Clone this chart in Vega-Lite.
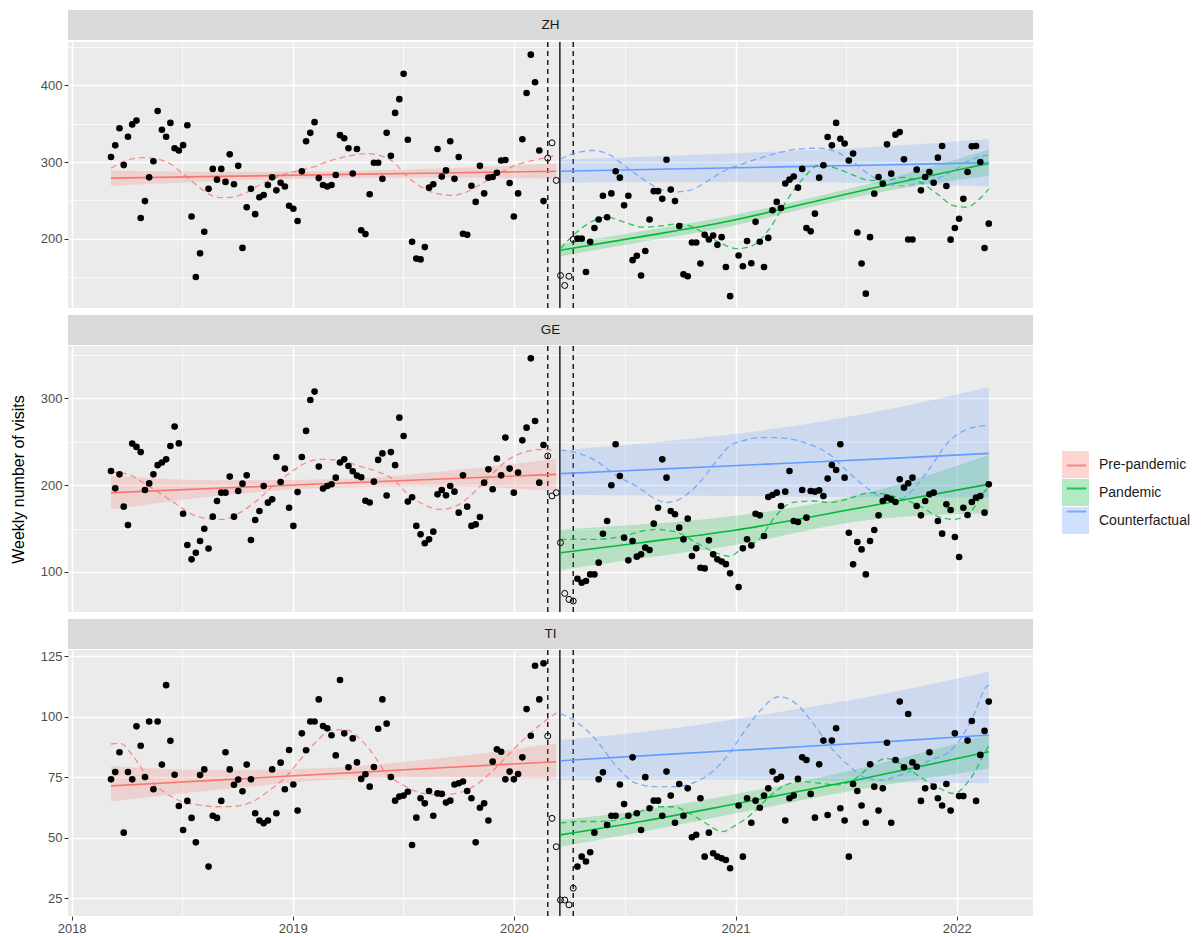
{
"$schema":"https://vega.github.io/schema/vega-lite/v6.json",
"background":"white",
"padding":{"left":10,"top":10,"right":0,"bottom":0},
"config":{"font":"Liberation Sans","view":{"stroke":null},
"axis":{"labelFont":"Liberation Sans","labelFontSize":13,"labelColor":"#4D4D4D","tickColor":"#333333","tickWidth":1,"domain":false,"gridColor":"#FFFFFF","gridOpacity":1,"titleFont":"Liberation Sans","titleFontWeight":"normal","titleFontSize":16,"titleColor":"#000000","labelFlush":false,"labelOverlap":false},
"legend":{"labelFont":"Liberation Sans"}},
"datasets":{
"events":[{"week":"2020-02-26","kind":"dashed"},{"week":"2020-03-17","kind":"solid"},{"week":"2020-04-08","kind":"dashed"}],
"zh_obs":[{"week":"2018-03-07","visits":306.5},{"week":"2018-03-14","visits":321.7},{"week":"2018-03-21","visits":344},{"week":"2018-03-28","visits":296},{"week":"2018-04-04","visits":333},{"week":"2018-04-11","visits":349},{"week":"2018-04-18","visits":354},{"week":"2018-04-25","visits":227},{"week":"2018-05-02","visits":249},{"week":"2018-05-09","visits":280},{"week":"2018-05-16","visits":301},{"week":"2018-05-23","visits":366.5},{"week":"2018-05-30","visits":342},{"week":"2018-06-06","visits":333},{"week":"2018-06-13","visits":351},{"week":"2018-06-20","visits":318},{"week":"2018-06-27","visits":315},{"week":"2018-07-04","visits":322},{"week":"2018-07-11","visits":348},{"week":"2018-07-18","visits":229},{"week":"2018-07-25","visits":150},{"week":"2018-08-01","visits":181},{"week":"2018-08-08","visits":209},{"week":"2018-08-15","visits":265},{"week":"2018-08-22","visits":291},{"week":"2018-08-29","visits":277},{"week":"2018-09-05","visits":291},{"week":"2018-09-12","visits":274},{"week":"2018-09-19","visits":310},{"week":"2018-09-26","visits":271},{"week":"2018-10-03","visits":295},{"week":"2018-10-10","visits":188},{"week":"2018-10-17","visits":241},{"week":"2018-10-24","visits":265},{"week":"2018-10-31","visits":232},{"week":"2018-11-07","visits":254},{"week":"2018-11-14","visits":257},{"week":"2018-11-21","visits":270},{"week":"2018-11-28","visits":280},{"week":"2018-12-05","visits":263},{"week":"2018-12-12","visits":273},{"week":"2018-12-19","visits":268},{"week":"2018-12-26","visits":243},{"week":"2019-01-02","visits":239},{"week":"2019-01-09","visits":223},{"week":"2019-01-16","visits":288},{"week":"2019-01-23","visits":327},{"week":"2019-01-30","visits":338},{"week":"2019-02-06","visits":352},{"week":"2019-02-13","visits":279},{"week":"2019-02-20","visits":270},{"week":"2019-02-27","visits":268},{"week":"2019-03-06","visits":270},{"week":"2019-03-13","visits":283},{"week":"2019-03-20","visits":335},{"week":"2019-03-27","visits":331},{"week":"2019-04-03","visits":318},{"week":"2019-04-10","visits":285},{"week":"2019-04-17","visits":317},{"week":"2019-04-24","visits":211},{"week":"2019-05-01","visits":206},{"week":"2019-05-08","visits":258},{"week":"2019-05-15","visits":299},{"week":"2019-05-22","visits":299},{"week":"2019-05-29","visits":278},{"week":"2019-06-05","visits":338},{"week":"2019-06-12","visits":308},{"week":"2019-06-19","visits":364},{"week":"2019-06-26","visits":382},{"week":"2019-07-03","visits":415},{"week":"2019-07-10","visits":329},{"week":"2019-07-17","visits":196},{"week":"2019-07-24","visits":174},{"week":"2019-07-31","visits":173},{"week":"2019-08-07","visits":189},{"week":"2019-08-14","visits":266.5},{"week":"2019-08-21","visits":271},{"week":"2019-08-28","visits":317},{"week":"2019-09-04","visits":281},{"week":"2019-09-11","visits":289},{"week":"2019-09-18","visits":327},{"week":"2019-09-25","visits":278},{"week":"2019-10-02","visits":306.5},{"week":"2019-10-09","visits":206.5},{"week":"2019-10-16","visits":205},{"week":"2019-10-23","visits":269},{"week":"2019-10-30","visits":248},{"week":"2019-11-06","visits":295},{"week":"2019-11-13","visits":259},{"week":"2019-11-20","visits":279.6},{"week":"2019-11-27","visits":280.4},{"week":"2019-12-04","visits":286},{"week":"2019-12-11","visits":302},{"week":"2019-12-18","visits":302.6},{"week":"2019-12-25","visits":272.6},{"week":"2020-01-01","visits":229},{"week":"2020-01-08","visits":259},{"week":"2020-01-15","visits":329.6},{"week":"2020-01-22","visits":390},{"week":"2020-01-29","visits":440},{"week":"2020-02-05","visits":404},{"week":"2020-02-12","visits":315},{"week":"2020-02-19","visits":249},{"week":"2020-02-26","visits":305,"excluded":true},{"week":"2020-03-04","visits":325,"excluded":true},{"week":"2020-03-11","visits":276,"excluded":true},{"week":"2020-03-18","visits":152,"excluded":true},{"week":"2020-03-25","visits":139,"excluded":true},{"week":"2020-04-01","visits":151,"excluded":true},{"week":"2020-04-08","visits":199,"excluded":true},{"week":"2020-04-15","visits":200},{"week":"2020-04-22","visits":200},{"week":"2020-04-29","visits":156.5},{"week":"2020-05-06","visits":196},{"week":"2020-05-13","visits":214},{"week":"2020-05-20","visits":225},{"week":"2020-05-27","visits":256},{"week":"2020-06-03","visits":228},{"week":"2020-06-10","visits":259},{"week":"2020-06-17","visits":288},{"week":"2020-06-24","visits":279.6},{"week":"2020-07-01","visits":243.5},{"week":"2020-07-08","visits":256},{"week":"2020-07-15","visits":172},{"week":"2020-07-22","visits":177.6},{"week":"2020-07-29","visits":152},{"week":"2020-08-05","visits":184},{"week":"2020-08-12","visits":225},{"week":"2020-08-19","visits":262},{"week":"2020-08-26","visits":262},{"week":"2020-09-02","visits":252},{"week":"2020-09-09","visits":303},{"week":"2020-09-16","visits":264},{"week":"2020-09-23","visits":249},{"week":"2020-09-30","visits":216.5},{"week":"2020-10-07","visits":153.5},{"week":"2020-10-14","visits":151},{"week":"2020-10-21","visits":195},{"week":"2020-10-28","visits":195},{"week":"2020-11-04","visits":167.6},{"week":"2020-11-11","visits":205},{"week":"2020-11-18","visits":199},{"week":"2020-11-25","visits":204},{"week":"2020-12-02","visits":192},{"week":"2020-12-09","visits":202},{"week":"2020-12-16","visits":163},{"week":"2020-12-23","visits":125},{"week":"2021-01-06","visits":178},{"week":"2021-01-13","visits":164},{"week":"2021-01-20","visits":197},{"week":"2021-01-27","visits":168},{"week":"2021-02-03","visits":222},{"week":"2021-02-10","visits":196},{"week":"2021-02-17","visits":163},{"week":"2021-02-24","visits":201},{"week":"2021-03-03","visits":237},{"week":"2021-03-10","visits":248},{"week":"2021-03-17","visits":240},{"week":"2021-03-24","visits":272},{"week":"2021-03-31","visits":277},{"week":"2021-04-07","visits":281},{"week":"2021-04-14","visits":266.5},{"week":"2021-04-21","visits":291},{"week":"2021-04-28","visits":214},{"week":"2021-05-05","visits":209.6},{"week":"2021-05-12","visits":232.6},{"week":"2021-05-19","visits":279.6},{"week":"2021-05-26","visits":295.7},{"week":"2021-06-02","visits":332.6},{"week":"2021-06-09","visits":321.7},{"week":"2021-06-16","visits":351},{"week":"2021-06-23","visits":330.4},{"week":"2021-06-30","visits":324},{"week":"2021-07-07","visits":302},{"week":"2021-07-14","visits":311},{"week":"2021-07-21","visits":208},{"week":"2021-07-28","visits":167.6},{"week":"2021-08-04","visits":128.3},{"week":"2021-08-11","visits":202},{"week":"2021-08-18","visits":258.7},{"week":"2021-08-25","visits":280.4},{"week":"2021-09-01","visits":271.7},{"week":"2021-09-08","visits":323},{"week":"2021-09-15","visits":284.8},{"week":"2021-09-22","visits":335.7},{"week":"2021-09-29","visits":339},{"week":"2021-10-06","visits":303.5},{"week":"2021-10-13","visits":199},{"week":"2021-10-20","visits":199},{"week":"2021-10-27","visits":290},{"week":"2021-11-03","visits":263},{"week":"2021-11-10","visits":280.4},{"week":"2021-11-17","visits":287},{"week":"2021-11-24","visits":273},{"week":"2021-12-01","visits":305.7},{"week":"2021-12-08","visits":320.9},{"week":"2021-12-15","visits":268.7},{"week":"2021-12-22","visits":198.7},{"week":"2021-12-29","visits":214},{"week":"2022-01-05","visits":226},{"week":"2022-01-12","visits":252},{"week":"2022-01-19","visits":287},{"week":"2022-01-26","visits":320.4},{"week":"2022-02-02","visits":320.9},{"week":"2022-02-09","visits":300},{"week":"2022-02-16","visits":187.8},{"week":"2022-02-23","visits":219.6}],
"ge_obs":[{"week":"2018-03-07","visits":216.3},{"week":"2018-03-14","visits":196.3},{"week":"2018-03-21","visits":212.4},{"week":"2018-03-28","visits":175.2},{"week":"2018-04-04","visits":154},{"week":"2018-04-11","visits":247.8},{"week":"2018-04-18","visits":244},{"week":"2018-04-25","visits":238},{"week":"2018-05-02","visits":194.4},{"week":"2018-05-09","visits":202},{"week":"2018-05-16","visits":212.4},{"week":"2018-05-23","visits":223},{"week":"2018-05-30","visits":226},{"week":"2018-06-06","visits":229.7},{"week":"2018-06-13","visits":245},{"week":"2018-06-20","visits":267.4},{"week":"2018-06-27","visits":248},{"week":"2018-07-04","visits":167},{"week":"2018-07-11","visits":131},{"week":"2018-07-18","visits":114.5},{"week":"2018-07-25","visits":122},{"week":"2018-08-01","visits":135.6},{"week":"2018-08-08","visits":149.8},{"week":"2018-08-15","visits":127},{"week":"2018-08-22","visits":163.7},{"week":"2018-08-29","visits":181.7},{"week":"2018-09-05","visits":191.3},{"week":"2018-09-12","visits":191.3},{"week":"2018-09-19","visits":209.8},{"week":"2018-09-26","visits":163.7},{"week":"2018-10-03","visits":193.2},{"week":"2018-10-10","visits":201.7},{"week":"2018-10-17","visits":211.3},{"week":"2018-10-24","visits":136.8},{"week":"2018-10-31","visits":159.8},{"week":"2018-11-07","visits":170.2},{"week":"2018-11-14","visits":199},{"week":"2018-11-21","visits":179.8},{"week":"2018-11-28","visits":183.6},{"week":"2018-12-05","visits":232.4},{"week":"2018-12-12","visits":203.6},{"week":"2018-12-19","visits":219},{"week":"2018-12-26","visits":174},{"week":"2019-01-02","visits":153},{"week":"2019-01-09","visits":192},{"week":"2019-01-16","visits":232.4},{"week":"2019-01-23","visits":262.4},{"week":"2019-01-30","visits":298},{"week":"2019-02-06","visits":307.7},{"week":"2019-02-13","visits":221.3},{"week":"2019-02-20","visits":196},{"week":"2019-02-27","visits":199},{"week":"2019-03-06","visits":201},{"week":"2019-03-13","visits":208.6},{"week":"2019-03-20","visits":226},{"week":"2019-03-27","visits":229.7},{"week":"2019-04-03","visits":222},{"week":"2019-04-10","visits":216},{"week":"2019-04-17","visits":211},{"week":"2019-04-24","visits":209},{"week":"2019-05-01","visits":182},{"week":"2019-05-08","visits":180},{"week":"2019-05-15","visits":204},{"week":"2019-05-22","visits":229},{"week":"2019-05-29","visits":236.5},{"week":"2019-06-05","visits":188},{"week":"2019-06-12","visits":238},{"week":"2019-06-19","visits":223},{"week":"2019-06-26","visits":277.7},{"week":"2019-07-03","visits":256.6},{"week":"2019-07-10","visits":181},{"week":"2019-07-17","visits":186},{"week":"2019-07-24","visits":153},{"week":"2019-07-31","visits":143.3},{"week":"2019-08-07","visits":133},{"week":"2019-08-14","visits":137.6},{"week":"2019-08-21","visits":146.4},{"week":"2019-08-28","visits":189.4},{"week":"2019-09-04","visits":194.4},{"week":"2019-09-11","visits":188.2},{"week":"2019-09-18","visits":199},{"week":"2019-09-25","visits":192.5},{"week":"2019-10-02","visits":168.3},{"week":"2019-10-09","visits":211.3},{"week":"2019-10-16","visits":175.2},{"week":"2019-10-23","visits":153},{"week":"2019-10-30","visits":154.8},{"week":"2019-11-06","visits":163.3},{"week":"2019-11-13","visits":202.8},{"week":"2019-11-20","visits":218.2},{"week":"2019-11-27","visits":195.2},{"week":"2019-12-04","visits":230.5},{"week":"2019-12-11","visits":211.3},{"week":"2019-12-18","visits":254.7},{"week":"2019-12-25","visits":219},{"week":"2020-01-01","visits":191.3},{"week":"2020-01-08","visits":214.4},{"week":"2020-01-15","visits":251.6},{"week":"2020-01-22","visits":266.2},{"week":"2020-01-29","visits":346},{"week":"2020-02-05","visits":273.9},{"week":"2020-02-12","visits":202.8},{"week":"2020-02-19","visits":246.2},{"week":"2020-02-26","visits":233.6,"excluded":true},{"week":"2020-03-04","visits":187.5,"excluded":true},{"week":"2020-03-11","visits":191.3,"excluded":true},{"week":"2020-03-18","visits":133.7,"excluded":true},{"week":"2020-03-25","visits":75.3,"excluded":true},{"week":"2020-04-01","visits":68.4,"excluded":true},{"week":"2020-04-08","visits":66.5,"excluded":true},{"week":"2020-04-15","visits":92.2},{"week":"2020-04-22","visits":87.6},{"week":"2020-04-29","visits":89.6},{"week":"2020-05-06","visits":97.2},{"week":"2020-05-13","visits":97.2},{"week":"2020-05-20","visits":110.7},{"week":"2020-05-27","visits":144},{"week":"2020-06-03","visits":158.7},{"week":"2020-06-10","visits":199.8},{"week":"2020-06-17","visits":247},{"week":"2020-06-24","visits":210.5},{"week":"2020-07-01","visits":139.5},{"week":"2020-07-08","visits":113.4},{"week":"2020-07-15","visits":135.6},{"week":"2020-07-22","visits":117.6},{"week":"2020-07-29","visits":120.3},{"week":"2020-08-05","visits":128},{"week":"2020-08-12","visits":125.3},{"week":"2020-08-19","visits":155.6},{"week":"2020-08-26","visits":174},{"week":"2020-09-02","visits":229.7},{"week":"2020-09-09","visits":208.6},{"week":"2020-09-16","visits":170.2},{"week":"2020-09-23","visits":166.4},{"week":"2020-09-30","visits":151},{"week":"2020-10-07","visits":137.6},{"week":"2020-10-14","visits":161.4},{"week":"2020-10-21","visits":118.4},{"week":"2020-10-28","visits":127.2},{"week":"2020-11-04","visits":104.9},{"week":"2020-11-11","visits":104.1},{"week":"2020-11-18","visits":136.4},{"week":"2020-11-25","visits":120.3},{"week":"2020-12-02","visits":114.5},{"week":"2020-12-09","visits":112},{"week":"2020-12-16","visits":109},{"week":"2020-12-23","visits":98.4},{"week":"2021-01-06","visits":82.6},{"week":"2021-01-13","visits":127.2},{"week":"2021-01-20","visits":137.6},{"week":"2021-01-27","visits":130.6},{"week":"2021-02-03","visits":167.1},{"week":"2021-02-10","visits":165.2},{"week":"2021-02-17","visits":141.4},{"week":"2021-02-24","visits":186.3},{"week":"2021-03-03","visits":188.6},{"week":"2021-03-10","visits":191.3},{"week":"2021-03-17","visits":176},{"week":"2021-03-24","visits":192.5},{"week":"2021-03-31","visits":216.3},{"week":"2021-04-07","visits":158.7},{"week":"2021-04-14","visits":157.5},{"week":"2021-04-21","visits":194.4},{"week":"2021-04-28","visits":162.5},{"week":"2021-05-05","visits":193.2},{"week":"2021-05-12","visits":192.5},{"week":"2021-05-19","visits":194},{"week":"2021-05-26","visits":187.5},{"week":"2021-06-02","visits":207.5},{"week":"2021-06-09","visits":223.2},{"week":"2021-06-16","visits":217.4},{"week":"2021-06-23","visits":247},{"week":"2021-06-30","visits":208.6},{"week":"2021-07-07","visits":145.2},{"week":"2021-07-14","visits":108.8},{"week":"2021-07-21","visits":134.5},{"week":"2021-07-28","visits":126},{"week":"2021-08-04","visits":97.2},{"week":"2021-08-11","visits":135.6},{"week":"2021-08-18","visits":148.3},{"week":"2021-08-25","visits":165.2},{"week":"2021-09-01","visits":181.7},{"week":"2021-09-08","visits":185.6},{"week":"2021-09-15","visits":183.6},{"week":"2021-09-22","visits":180.6},{"week":"2021-09-29","visits":206.7},{"week":"2021-10-06","visits":197.1},{"week":"2021-10-13","visits":202.1},{"week":"2021-10-20","visits":208.6},{"week":"2021-10-27","visits":176},{"week":"2021-11-03","visits":165.2},{"week":"2021-11-10","visits":181.7},{"week":"2021-11-17","visits":189.4},{"week":"2021-11-24","visits":191.3},{"week":"2021-12-01","visits":158.7},{"week":"2021-12-08","visits":144.1},{"week":"2021-12-15","visits":177.9},{"week":"2021-12-22","visits":171.4},{"week":"2021-12-29","visits":140.2},{"week":"2022-01-05","visits":117.2},{"week":"2022-01-12","visits":174},{"week":"2022-01-19","visits":165.6},{"week":"2022-01-26","visits":180.6},{"week":"2022-02-02","visits":185.6},{"week":"2022-02-09","visits":187.5},{"week":"2022-02-16","visits":168.3},{"week":"2022-02-23","visits":200.9}],
"ti_obs":[{"week":"2018-03-07","visits":74.1},{"week":"2018-03-14","visits":77.1},{"week":"2018-03-21","visits":85.3},{"week":"2018-03-28","visits":52.1},{"week":"2018-04-04","visits":77.1},{"week":"2018-04-11","visits":74.1},{"week":"2018-04-18","visits":96},{"week":"2018-04-25","visits":88},{"week":"2018-05-02","visits":75.1},{"week":"2018-05-09","visits":98},{"week":"2018-05-16","visits":70},{"week":"2018-05-23","visits":98},{"week":"2018-05-30","visits":80.2},{"week":"2018-06-06","visits":113},{"week":"2018-06-13","visits":90},{"week":"2018-06-20","visits":76},{"week":"2018-06-27","visits":63.1},{"week":"2018-07-04","visits":53.2},{"week":"2018-07-11","visits":65.2},{"week":"2018-07-18","visits":58.2},{"week":"2018-07-25","visits":48.1},{"week":"2018-08-01","visits":75.9},{"week":"2018-08-08","visits":78.2},{"week":"2018-08-15","visits":38.1},{"week":"2018-08-22","visits":59.1},{"week":"2018-08-29","visits":58.2},{"week":"2018-09-05","visits":65.2},{"week":"2018-09-12","visits":85.3},{"week":"2018-09-19","visits":78.2},{"week":"2018-09-26","visits":71.9},{"week":"2018-10-03","visits":74},{"week":"2018-10-10","visits":69.2},{"week":"2018-10-17","visits":80.2},{"week":"2018-10-24","visits":74.1},{"week":"2018-10-31","visits":60.1},{"week":"2018-11-07","visits":57.1},{"week":"2018-11-14","visits":56},{"week":"2018-11-21","visits":57.1},{"week":"2018-11-28","visits":78.2},{"week":"2018-12-05","visits":60.1},{"week":"2018-12-12","visits":81},{"week":"2018-12-19","visits":70},{"week":"2018-12-26","visits":86.2},{"week":"2019-01-02","visits":72},{"week":"2019-01-09","visits":61.2},{"week":"2019-01-16","visits":93.1},{"week":"2019-01-23","visits":86.1},{"week":"2019-01-30","visits":98},{"week":"2019-02-06","visits":98},{"week":"2019-02-13","visits":107.1},{"week":"2019-02-20","visits":96.1},{"week":"2019-02-27","visits":95.2},{"week":"2019-03-06","visits":92.3},{"week":"2019-03-13","visits":84},{"week":"2019-03-20","visits":115.1},{"week":"2019-03-27","visits":93.1},{"week":"2019-04-03","visits":79.1},{"week":"2019-04-10","visits":91},{"week":"2019-04-17","visits":81.1},{"week":"2019-04-24","visits":74.3},{"week":"2019-05-01","visits":76.2},{"week":"2019-05-08","visits":71.1},{"week":"2019-05-15","visits":79.2},{"week":"2019-05-22","visits":95},{"week":"2019-05-29","visits":107.1},{"week":"2019-06-05","visits":97.1},{"week":"2019-06-12","visits":75.1},{"week":"2019-06-19","visits":65.3},{"week":"2019-06-26","visits":67},{"week":"2019-07-03","visits":67.4},{"week":"2019-07-10","visits":69},{"week":"2019-07-17","visits":47},{"week":"2019-07-24","visits":58.3},{"week":"2019-07-31","visits":66.3},{"week":"2019-08-07","visits":64.2},{"week":"2019-08-14","visits":69.3},{"week":"2019-08-21","visits":59.1},{"week":"2019-08-28","visits":68.3},{"week":"2019-09-04","visits":68.1},{"week":"2019-09-11","visits":64.5},{"week":"2019-09-18","visits":65.3},{"week":"2019-09-25","visits":72},{"week":"2019-10-02","visits":72.5},{"week":"2019-10-09","visits":73.2},{"week":"2019-10-16","visits":69.3},{"week":"2019-10-23","visits":66.3},{"week":"2019-10-30","visits":48.1},{"week":"2019-11-06","visits":62.4},{"week":"2019-11-13","visits":64.2},{"week":"2019-11-20","visits":57.1},{"week":"2019-11-27","visits":81.4},{"week":"2019-12-04","visits":86.5},{"week":"2019-12-11","visits":85.5},{"week":"2019-12-18","visits":74.1},{"week":"2019-12-25","visits":77.3},{"week":"2020-01-01","visits":74.1},{"week":"2020-01-08","visits":76.3},{"week":"2020-01-15","visits":83.2},{"week":"2020-01-22","visits":103.1},{"week":"2020-01-29","visits":92.1},{"week":"2020-02-05","visits":121},{"week":"2020-02-12","visits":107.1},{"week":"2020-02-19","visits":122},{"week":"2020-02-26","visits":92,"excluded":true},{"week":"2020-03-04","visits":58,"excluded":true},{"week":"2020-03-11","visits":46.3,"excluded":true},{"week":"2020-03-18","visits":24.3,"excluded":true},{"week":"2020-03-25","visits":24.3,"excluded":true},{"week":"2020-04-01","visits":22.3,"excluded":true},{"week":"2020-04-08","visits":29.2,"excluded":true},{"week":"2020-04-15","visits":38.1},{"week":"2020-04-22","visits":42.2},{"week":"2020-04-29","visits":40.2},{"week":"2020-05-06","visits":44},{"week":"2020-05-13","visits":52.1},{"week":"2020-05-20","visits":74.1},{"week":"2020-05-27","visits":77},{"week":"2020-06-03","visits":55.3},{"week":"2020-06-10","visits":59.1},{"week":"2020-06-17","visits":59.1},{"week":"2020-06-24","visits":72},{"week":"2020-07-01","visits":63.9},{"week":"2020-07-08","visits":59.1},{"week":"2020-07-15","visits":83.2},{"week":"2020-07-22","visits":60.1},{"week":"2020-07-29","visits":53.2},{"week":"2020-08-05","visits":75},{"week":"2020-08-12","visits":62.2},{"week":"2020-08-19","visits":65.3},{"week":"2020-08-26","visits":65.3},{"week":"2020-09-02","visits":59.1},{"week":"2020-09-09","visits":77.3},{"week":"2020-09-16","visits":67.4},{"week":"2020-09-23","visits":56.2},{"week":"2020-09-30","visits":72.2},{"week":"2020-10-07","visits":59.1},{"week":"2020-10-14","visits":70.4},{"week":"2020-10-21","visits":50.2},{"week":"2020-10-28","visits":51.2},{"week":"2020-11-04","visits":66.3},{"week":"2020-11-11","visits":42.2},{"week":"2020-11-18","visits":52.1},{"week":"2020-11-25","visits":43.6},{"week":"2020-12-02","visits":42.2},{"week":"2020-12-09","visits":41.5},{"week":"2020-12-16","visits":40.8},{"week":"2020-12-23","visits":37.4},{"week":"2021-01-06","visits":63.3},{"week":"2021-01-13","visits":42.2},{"week":"2021-01-20","visits":66.3},{"week":"2021-01-27","visits":56.2},{"week":"2021-02-03","visits":65.3},{"week":"2021-02-10","visits":62.4},{"week":"2021-02-17","visits":67.4},{"week":"2021-02-24","visits":70.4},{"week":"2021-03-03","visits":77.3},{"week":"2021-03-10","visits":74.1},{"week":"2021-03-17","visits":75.2},{"week":"2021-03-24","visits":57.1},{"week":"2021-03-31","visits":66.3},{"week":"2021-04-07","visits":67.4},{"week":"2021-04-14","visits":74.3},{"week":"2021-04-21","visits":83.2},{"week":"2021-04-28","visits":82.1},{"week":"2021-05-05","visits":68.1},{"week":"2021-05-12","visits":58.3},{"week":"2021-05-19","visits":80.3},{"week":"2021-05-26","visits":90.1},{"week":"2021-06-02","visits":59.4},{"week":"2021-06-09","visits":90.1},{"week":"2021-06-16","visits":95.2},{"week":"2021-06-23","visits":62.2},{"week":"2021-06-30","visits":57.1},{"week":"2021-07-07","visits":42.2},{"week":"2021-07-14","visits":72.2},{"week":"2021-07-21","visits":69.3},{"week":"2021-07-28","visits":63.3},{"week":"2021-08-04","visits":56.2},{"week":"2021-08-11","visits":80.3},{"week":"2021-08-18","visits":71.1},{"week":"2021-08-25","visits":61.2},{"week":"2021-09-01","visits":70.4},{"week":"2021-09-08","visits":89.2},{"week":"2021-09-15","visits":56.2},{"week":"2021-09-22","visits":82.1},{"week":"2021-09-29","visits":106.2},{"week":"2021-10-06","visits":79.1},{"week":"2021-10-13","visits":101.1},{"week":"2021-10-20","visits":81.1},{"week":"2021-10-27","visits":79.3},{"week":"2021-11-03","visits":65.2},{"week":"2021-11-10","visits":70.4},{"week":"2021-11-17","visits":85.3},{"week":"2021-11-24","visits":71.1},{"week":"2021-12-01","visits":66.3},{"week":"2021-12-08","visits":63.3},{"week":"2021-12-15","visits":72.2},{"week":"2021-12-22","visits":61.2},{"week":"2021-12-29","visits":93.1},{"week":"2022-01-05","visits":67.2},{"week":"2022-01-12","visits":67.2},{"week":"2022-01-19","visits":90.1},{"week":"2022-01-26","visits":98.2},{"week":"2022-02-02","visits":65.2},{"week":"2022-02-09","visits":84.2},{"week":"2022-02-16","visits":94.1},{"week":"2022-02-23","visits":106.2}],
"zh_fit":[{"series":"Pre-pandemic","week":"2018-03-07","fit":279,"lower":269,"upper":289},{"series":"Pre-pandemic","week":"2018-09-05","fit":281.2,"lower":275.2,"upper":287.2},{"series":"Pre-pandemic","week":"2019-03-06","fit":283.5,"lower":279,"upper":288},{"series":"Pre-pandemic","week":"2019-09-04","fit":285.7,"lower":279.7,"upper":291.7},{"series":"Pre-pandemic","week":"2020-03-11","fit":288,"lower":278,"upper":298},{"series":"Pandemic","week":"2020-03-18","fit":185,"lower":177,"upper":193},{"series":"Pandemic","week":"2020-08-01","fit":203,"lower":196,"upper":210},{"series":"Pandemic","week":"2020-12-10","fit":221,"lower":214,"upper":228},{"series":"Pandemic","week":"2021-05-20","fit":250,"lower":244,"upper":256},{"series":"Pandemic","week":"2021-08-11","fit":265,"lower":258,"upper":272},{"series":"Pandemic","week":"2022-02-23","fit":298,"lower":282,"upper":316},{"series":"Counterfactual","week":"2020-03-18","fit":288,"lower":273,"upper":303},{"series":"Counterfactual","week":"2020-09-16","fit":290.8,"lower":274,"upper":308},{"series":"Counterfactual","week":"2021-03-17","fit":293.6,"lower":274,"upper":314},{"series":"Counterfactual","week":"2021-09-15","fit":296.4,"lower":272,"upper":321},{"series":"Counterfactual","week":"2022-02-23","fit":299,"lower":268,"upper":330}],
"ge_fit":[{"series":"Pre-pandemic","week":"2018-03-07","fit":191.3,"lower":171.8,"upper":210.8},{"series":"Pre-pandemic","week":"2018-09-05","fit":196.6,"lower":188,"upper":205.5},{"series":"Pre-pandemic","week":"2019-03-06","fit":201.9,"lower":197,"upper":206.8},{"series":"Pre-pandemic","week":"2019-09-04","fit":207.1,"lower":198.5,"upper":215.8},{"series":"Pre-pandemic","week":"2020-03-11","fit":212.4,"lower":193.5,"upper":230.5},{"series":"Pandemic","week":"2020-03-18","fit":122.2,"lower":102,"upper":149},{"series":"Pandemic","week":"2020-08-01","fit":134,"lower":116,"upper":155},{"series":"Pandemic","week":"2020-12-22","fit":147.2,"lower":130,"upper":164},{"series":"Pandemic","week":"2021-08-11","fit":176,"lower":160,"upper":192},{"series":"Pandemic","week":"2022-02-23","fit":201,"lower":168,"upper":235},{"series":"Counterfactual","week":"2020-03-18","fit":213.2,"lower":189,"upper":240},{"series":"Counterfactual","week":"2020-09-16","fit":219,"lower":188,"upper":251},{"series":"Counterfactual","week":"2021-03-17","fit":224.9,"lower":187,"upper":266},{"series":"Counterfactual","week":"2021-09-15","fit":230.8,"lower":186,"upper":288},{"series":"Counterfactual","week":"2022-02-23","fit":236.6,"lower":186,"upper":313}],
"ti_fit":[{"series":"Pre-pandemic","week":"2018-03-07","fit":71.4,"lower":65,"upper":79.5},{"series":"Pre-pandemic","week":"2018-09-05","fit":73.9,"lower":69.9,"upper":77.9},{"series":"Pre-pandemic","week":"2019-03-06","fit":76.4,"lower":73.9,"upper":78.9},{"series":"Pre-pandemic","week":"2019-09-04","fit":78.9,"lower":74.9,"upper":82.9},{"series":"Pre-pandemic","week":"2020-03-11","fit":81.4,"lower":74,"upper":89},{"series":"Pandemic","week":"2020-03-18","fit":51.2,"lower":46.3,"upper":57.3},{"series":"Pandemic","week":"2020-08-01","fit":56.8,"lower":52.5,"upper":61.5},{"series":"Pandemic","week":"2020-12-22","fit":63.5,"lower":59.5,"upper":67.5},{"series":"Pandemic","week":"2021-07-14","fit":73.5,"lower":69.5,"upper":78},{"series":"Pandemic","week":"2022-02-23","fit":85.5,"lower":78.5,"upper":92.5},{"series":"Counterfactual","week":"2020-03-18","fit":81.8,"lower":73.8,"upper":90.3},{"series":"Counterfactual","week":"2020-09-16","fit":84.5,"lower":74,"upper":95},{"series":"Counterfactual","week":"2021-03-17","fit":87.1,"lower":73.8,"upper":102},{"series":"Counterfactual","week":"2021-09-15","fit":89.8,"lower":73,"upper":110},{"series":"Counterfactual","week":"2022-02-23","fit":92.4,"lower":72.5,"upper":118.5}],
"zh_season":[{"series":"Pre-pandemic","week":"2018-03-07","seasonal":292},{"series":"Pre-pandemic","week":"2018-04-02","seasonal":302},{"series":"Pre-pandemic","week":"2018-04-29","seasonal":305.7},{"series":"Pre-pandemic","week":"2018-05-21","seasonal":304},{"series":"Pre-pandemic","week":"2018-06-12","seasonal":298},{"series":"Pre-pandemic","week":"2018-07-03","seasonal":285},{"series":"Pre-pandemic","week":"2018-07-26","seasonal":270},{"series":"Pre-pandemic","week":"2018-08-17","seasonal":257.4},{"series":"Pre-pandemic","week":"2018-09-08","seasonal":253.5},{"series":"Pre-pandemic","week":"2018-09-24","seasonal":254.3},{"series":"Pre-pandemic","week":"2018-10-16","seasonal":260},{"series":"Pre-pandemic","week":"2018-11-07","seasonal":270},{"series":"Pre-pandemic","week":"2018-11-29","seasonal":278},{"series":"Pre-pandemic","week":"2018-12-21","seasonal":285},{"series":"Pre-pandemic","week":"2019-01-13","seasonal":289},{"series":"Pre-pandemic","week":"2019-02-04","seasonal":293.5},{"series":"Pre-pandemic","week":"2019-02-26","seasonal":300},{"series":"Pre-pandemic","week":"2019-03-18","seasonal":305},{"series":"Pre-pandemic","week":"2019-04-09","seasonal":308.7},{"series":"Pre-pandemic","week":"2019-05-02","seasonal":311},{"series":"Pre-pandemic","week":"2019-05-24","seasonal":308.7},{"series":"Pre-pandemic","week":"2019-06-16","seasonal":300},{"series":"Pre-pandemic","week":"2019-07-08","seasonal":282},{"series":"Pre-pandemic","week":"2019-08-04","seasonal":266},{"series":"Pre-pandemic","week":"2019-09-01","seasonal":258},{"series":"Pre-pandemic","week":"2019-09-15","seasonal":256.5},{"series":"Pre-pandemic","week":"2019-10-09","seasonal":259},{"series":"Pre-pandemic","week":"2019-11-01","seasonal":268},{"series":"Pre-pandemic","week":"2019-11-23","seasonal":278},{"series":"Pre-pandemic","week":"2019-12-14","seasonal":288},{"series":"Pre-pandemic","week":"2020-01-05","seasonal":296},{"series":"Pre-pandemic","week":"2020-01-27","seasonal":301},{"series":"Pre-pandemic","week":"2020-02-19","seasonal":305},{"series":"Pre-pandemic","week":"2020-03-11","seasonal":309},{"series":"Counterfactual","week":"2020-03-18","seasonal":304},{"series":"Counterfactual","week":"2020-04-13","seasonal":312},{"series":"Counterfactual","week":"2020-05-11","seasonal":315},{"series":"Counterfactual","week":"2020-06-08","seasonal":309},{"series":"Counterfactual","week":"2020-06-30","seasonal":296},{"series":"Counterfactual","week":"2020-08-01","seasonal":278},{"series":"Counterfactual","week":"2020-08-28","seasonal":265},{"series":"Counterfactual","week":"2020-09-19","seasonal":261},{"series":"Counterfactual","week":"2020-10-17","seasonal":263},{"series":"Counterfactual","week":"2020-11-13","seasonal":274},{"series":"Counterfactual","week":"2020-12-10","seasonal":287},{"series":"Counterfactual","week":"2021-01-29","seasonal":302},{"series":"Counterfactual","week":"2021-03-08","seasonal":311},{"series":"Counterfactual","week":"2021-04-16","seasonal":317},{"series":"Counterfactual","week":"2021-05-20","seasonal":318},{"series":"Counterfactual","week":"2021-06-17","seasonal":313},{"series":"Counterfactual","week":"2021-07-14","seasonal":300},{"series":"Counterfactual","week":"2021-08-11","seasonal":283},{"series":"Counterfactual","week":"2021-09-07","seasonal":272},{"series":"Counterfactual","week":"2021-10-04","seasonal":269},{"series":"Counterfactual","week":"2021-11-01","seasonal":272},{"series":"Counterfactual","week":"2021-11-29","seasonal":278},{"series":"Counterfactual","week":"2021-12-27","seasonal":289},{"series":"Counterfactual","week":"2022-01-22","seasonal":302},{"series":"Counterfactual","week":"2022-02-23","seasonal":309},{"series":"Pandemic","week":"2020-03-18","seasonal":187},{"series":"Pandemic","week":"2020-04-02","seasonal":200},{"series":"Pandemic","week":"2020-04-24","seasonal":215},{"series":"Pandemic","week":"2020-05-16","seasonal":225},{"series":"Pandemic","week":"2020-06-02","seasonal":228},{"series":"Pandemic","week":"2020-06-30","seasonal":222},{"series":"Pandemic","week":"2020-08-01","seasonal":215},{"series":"Pandemic","week":"2020-09-03","seasonal":217},{"series":"Pandemic","week":"2020-09-30","seasonal":219.6},{"series":"Pandemic","week":"2020-10-28","seasonal":213},{"series":"Pandemic","week":"2020-11-24","seasonal":200},{"series":"Pandemic","week":"2020-12-16","seasonal":191},{"series":"Pandemic","week":"2021-01-02","seasonal":187},{"series":"Pandemic","week":"2021-01-29","seasonal":191},{"series":"Pandemic","week":"2021-02-26","seasonal":213},{"series":"Pandemic","week":"2021-03-25","seasonal":248},{"series":"Pandemic","week":"2021-04-22","seasonal":278},{"series":"Pandemic","week":"2021-05-20","seasonal":296},{"series":"Pandemic","week":"2021-06-11","seasonal":293},{"series":"Pandemic","week":"2021-07-14","seasonal":283},{"series":"Pandemic","week":"2021-08-11","seasonal":276},{"series":"Pandemic","week":"2021-09-07","seasonal":276},{"series":"Pandemic","week":"2021-10-04","seasonal":280},{"series":"Pandemic","week":"2021-11-01","seasonal":274},{"series":"Pandemic","week":"2021-11-29","seasonal":259},{"series":"Pandemic","week":"2021-12-27","seasonal":243},{"series":"Pandemic","week":"2022-01-17","seasonal":241},{"series":"Pandemic","week":"2022-02-08","seasonal":252},{"series":"Pandemic","week":"2022-02-23","seasonal":265}],
"ge_season":[{"series":"Pre-pandemic","week":"2018-03-07","seasonal":215},{"series":"Pre-pandemic","week":"2018-04-02","seasonal":213},{"series":"Pre-pandemic","week":"2018-04-29","seasonal":203},{"series":"Pre-pandemic","week":"2018-05-26","seasonal":191},{"series":"Pre-pandemic","week":"2018-06-23","seasonal":178},{"series":"Pre-pandemic","week":"2018-07-20","seasonal":166},{"series":"Pre-pandemic","week":"2018-08-17","seasonal":161},{"series":"Pre-pandemic","week":"2018-09-08","seasonal":160.6},{"series":"Pre-pandemic","week":"2018-10-05","seasonal":168},{"series":"Pre-pandemic","week":"2018-11-02","seasonal":181.7},{"series":"Pre-pandemic","week":"2018-11-29","seasonal":199},{"series":"Pre-pandemic","week":"2018-12-27","seasonal":214},{"series":"Pre-pandemic","week":"2019-01-24","seasonal":226},{"series":"Pre-pandemic","week":"2019-02-20","seasonal":229.7},{"series":"Pre-pandemic","week":"2019-03-24","seasonal":227.8},{"series":"Pre-pandemic","week":"2019-04-21","seasonal":222},{"series":"Pre-pandemic","week":"2019-05-19","seasonal":216},{"series":"Pre-pandemic","week":"2019-06-16","seasonal":206.7},{"series":"Pre-pandemic","week":"2019-07-08","seasonal":191},{"series":"Pre-pandemic","week":"2019-08-04","seasonal":178},{"series":"Pre-pandemic","week":"2019-09-01","seasonal":172},{"series":"Pre-pandemic","week":"2019-09-28","seasonal":176},{"series":"Pre-pandemic","week":"2019-10-26","seasonal":191},{"series":"Pre-pandemic","week":"2019-11-23","seasonal":210.5},{"series":"Pre-pandemic","week":"2019-12-20","seasonal":227.8},{"series":"Pre-pandemic","week":"2020-01-16","seasonal":237.4},{"series":"Pre-pandemic","week":"2020-02-13","seasonal":241},{"series":"Pre-pandemic","week":"2020-03-11","seasonal":240.5},{"series":"Counterfactual","week":"2020-03-18","seasonal":240.5},{"series":"Counterfactual","week":"2020-04-13","seasonal":237.4},{"series":"Counterfactual","week":"2020-05-16","seasonal":227.8},{"series":"Counterfactual","week":"2020-06-19","seasonal":210.5},{"series":"Counterfactual","week":"2020-07-21","seasonal":199},{"series":"Counterfactual","week":"2020-08-23","seasonal":183.6},{"series":"Counterfactual","week":"2020-09-08","seasonal":180},{"series":"Counterfactual","week":"2020-09-30","seasonal":183.6},{"series":"Counterfactual","week":"2020-10-28","seasonal":199},{"series":"Counterfactual","week":"2020-11-24","seasonal":222},{"series":"Counterfactual","week":"2020-12-22","seasonal":245},{"series":"Counterfactual","week":"2021-01-13","seasonal":251},{"series":"Counterfactual","week":"2021-02-09","seasonal":254.7},{"series":"Counterfactual","week":"2021-03-08","seasonal":254.7},{"series":"Counterfactual","week":"2021-04-05","seasonal":252.8},{"series":"Counterfactual","week":"2021-05-03","seasonal":247},{"series":"Counterfactual","week":"2021-06-06","seasonal":235},{"series":"Counterfactual","week":"2021-07-03","seasonal":217},{"series":"Counterfactual","week":"2021-07-31","seasonal":200},{"series":"Counterfactual","week":"2021-08-27","seasonal":187},{"series":"Counterfactual","week":"2021-09-23","seasonal":181.7},{"series":"Counterfactual","week":"2021-10-21","seasonal":195},{"series":"Counterfactual","week":"2021-11-18","seasonal":220},{"series":"Counterfactual","week":"2021-12-16","seasonal":248},{"series":"Counterfactual","week":"2022-01-17","seasonal":264},{"series":"Counterfactual","week":"2022-02-23","seasonal":269},{"series":"Pandemic","week":"2020-03-18","seasonal":137.6},{"series":"Pandemic","week":"2020-05-16","seasonal":137.6},{"series":"Pandemic","week":"2020-06-30","seasonal":141.4},{"series":"Pandemic","week":"2020-08-01","seasonal":147.2},{"series":"Pandemic","week":"2020-08-23","seasonal":149},{"series":"Pandemic","week":"2020-09-25","seasonal":146},{"series":"Pandemic","week":"2020-10-28","seasonal":133.7},{"series":"Pandemic","week":"2020-11-29","seasonal":122.2},{"series":"Pandemic","week":"2020-12-22","seasonal":118},{"series":"Pandemic","week":"2021-01-13","seasonal":128},{"series":"Pandemic","week":"2021-02-09","seasonal":137.6},{"series":"Pandemic","week":"2021-03-08","seasonal":164.4},{"series":"Pandemic","week":"2021-04-05","seasonal":180},{"series":"Pandemic","week":"2021-05-09","seasonal":181.7},{"series":"Pandemic","week":"2021-06-06","seasonal":180},{"series":"Pandemic","week":"2021-07-03","seasonal":183.6},{"series":"Pandemic","week":"2021-08-11","seasonal":191.3},{"series":"Pandemic","week":"2021-09-07","seasonal":189.4},{"series":"Pandemic","week":"2021-10-04","seasonal":183.6},{"series":"Pandemic","week":"2021-11-01","seasonal":176},{"series":"Pandemic","week":"2021-11-29","seasonal":164.4},{"series":"Pandemic","week":"2021-12-27","seasonal":160.6},{"series":"Pandemic","week":"2022-01-22","seasonal":168},{"series":"Pandemic","week":"2022-02-19","seasonal":195},{"series":"Pandemic","week":"2022-02-23","seasonal":198}],
"ti_season":[{"series":"Pre-pandemic","week":"2018-03-07","seasonal":88.7},{"series":"Pre-pandemic","week":"2018-03-22","seasonal":89},{"series":"Pre-pandemic","week":"2018-04-13","seasonal":83.5},{"series":"Pre-pandemic","week":"2018-05-10","seasonal":73.8},{"series":"Pre-pandemic","week":"2018-06-06","seasonal":68.3},{"series":"Pre-pandemic","week":"2018-07-03","seasonal":64.9},{"series":"Pre-pandemic","week":"2018-07-31","seasonal":63.5},{"series":"Pre-pandemic","week":"2018-08-28","seasonal":62.8},{"series":"Pre-pandemic","week":"2018-09-30","seasonal":63.1},{"series":"Pre-pandemic","week":"2018-10-27","seasonal":64.9},{"series":"Pre-pandemic","week":"2018-11-24","seasonal":69.7},{"series":"Pre-pandemic","week":"2018-12-21","seasonal":75.2},{"series":"Pre-pandemic","week":"2019-01-13","seasonal":82.1},{"series":"Pre-pandemic","week":"2019-02-09","seasonal":89.7},{"series":"Pre-pandemic","week":"2019-03-07","seasonal":94.5},{"series":"Pre-pandemic","week":"2019-03-30","seasonal":94.5},{"series":"Pre-pandemic","week":"2019-04-21","seasonal":91},{"series":"Pre-pandemic","week":"2019-05-13","seasonal":84.8},{"series":"Pre-pandemic","week":"2019-06-04","seasonal":76.6},{"series":"Pre-pandemic","week":"2019-06-27","seasonal":72.5},{"series":"Pre-pandemic","week":"2019-08-04","seasonal":68.3},{"series":"Pre-pandemic","week":"2019-09-01","seasonal":67.7},{"series":"Pre-pandemic","week":"2019-09-28","seasonal":68.3},{"series":"Pre-pandemic","week":"2019-10-26","seasonal":71.1},{"series":"Pre-pandemic","week":"2019-11-23","seasonal":76.6},{"series":"Pre-pandemic","week":"2019-12-20","seasonal":83.5},{"series":"Pre-pandemic","week":"2020-01-16","seasonal":90.3},{"series":"Pre-pandemic","week":"2020-02-13","seasonal":96.5},{"series":"Pre-pandemic","week":"2020-03-11","seasonal":101.5},{"series":"Counterfactual","week":"2020-03-18","seasonal":101.3},{"series":"Counterfactual","week":"2020-04-13","seasonal":97.9},{"series":"Counterfactual","week":"2020-05-16","seasonal":90.3},{"series":"Counterfactual","week":"2020-06-19","seasonal":79.3},{"series":"Counterfactual","week":"2020-07-21","seasonal":72.5},{"series":"Counterfactual","week":"2020-08-23","seasonal":71.1},{"series":"Counterfactual","week":"2020-09-25","seasonal":71.1},{"series":"Counterfactual","week":"2020-10-28","seasonal":73.2},{"series":"Counterfactual","week":"2020-11-24","seasonal":77.3},{"series":"Counterfactual","week":"2020-12-22","seasonal":85},{"series":"Counterfactual","week":"2021-01-13","seasonal":93},{"series":"Counterfactual","week":"2021-02-09","seasonal":102},{"series":"Counterfactual","week":"2021-03-14","seasonal":108.2},{"series":"Counterfactual","week":"2021-04-10","seasonal":105.5},{"series":"Counterfactual","week":"2021-05-09","seasonal":97.2},{"series":"Counterfactual","week":"2021-06-06","seasonal":87.6},{"series":"Counterfactual","week":"2021-07-03","seasonal":80.7},{"series":"Counterfactual","week":"2021-07-31","seasonal":75.2},{"series":"Counterfactual","week":"2021-08-27","seasonal":73.8},{"series":"Counterfactual","week":"2021-09-23","seasonal":75.2},{"series":"Counterfactual","week":"2021-10-21","seasonal":78},{"series":"Counterfactual","week":"2021-11-18","seasonal":82.1},{"series":"Counterfactual","week":"2021-12-16","seasonal":84.8},{"series":"Counterfactual","week":"2022-01-06","seasonal":90.3},{"series":"Counterfactual","week":"2022-01-28","seasonal":100},{"series":"Counterfactual","week":"2022-02-19","seasonal":112.3},{"series":"Counterfactual","week":"2022-02-23","seasonal":113},{"series":"Pandemic","week":"2020-03-18","seasonal":56},{"series":"Pandemic","week":"2020-04-13","seasonal":56.7},{"series":"Pandemic","week":"2020-05-16","seasonal":56.7},{"series":"Pandemic","week":"2020-06-19","seasonal":57.3},{"series":"Pandemic","week":"2020-07-21","seasonal":60.1},{"series":"Pandemic","week":"2020-08-23","seasonal":62.8},{"series":"Pandemic","week":"2020-09-19","seasonal":62.8},{"series":"Pandemic","week":"2020-10-17","seasonal":60.1},{"series":"Pandemic","week":"2020-11-13","seasonal":56},{"series":"Pandemic","week":"2020-12-10","seasonal":52.5},{"series":"Pandemic","week":"2021-01-02","seasonal":55.3},{"series":"Pandemic","week":"2021-01-29","seasonal":60.1},{"series":"Pandemic","week":"2021-02-26","seasonal":67},{"series":"Pandemic","week":"2021-03-25","seasonal":71.8},{"series":"Pandemic","week":"2021-04-22","seasonal":73.2},{"series":"Pandemic","week":"2021-05-20","seasonal":72.5},{"series":"Pandemic","week":"2021-06-17","seasonal":71.8},{"series":"Pandemic","week":"2021-07-14","seasonal":73.8},{"series":"Pandemic","week":"2021-08-11","seasonal":79.3},{"series":"Pandemic","week":"2021-09-07","seasonal":82.8},{"series":"Pandemic","week":"2021-10-04","seasonal":80},{"series":"Pandemic","week":"2021-11-01","seasonal":75.2},{"series":"Pandemic","week":"2021-11-29","seasonal":71.1},{"series":"Pandemic","week":"2021-12-27","seasonal":68.3},{"series":"Pandemic","week":"2022-01-22","seasonal":73.8},{"series":"Pandemic","week":"2022-02-19","seasonal":86.2},{"series":"Pandemic","week":"2022-02-23","seasonal":88}]
},
"spacing":6,
"vconcat":[
{"spacing":0,"vconcat":[
 {"width":965,"height":30,"view":{"fill":"#D9D9D9","stroke":null},"data":{"values":[{"region":"ZH"}]},"mark":{"type":"text","fontSize":13.5,"color":"#1A1A1A","font":"Liberation Sans"},"encoding":{"text":{"field":"region"}}},
 {"width":965,"height":266,"view":{"fill":"#EBEBEB","stroke":null},"layer":[
  {"data":{"name":"events"},"mark":{"type":"rule","color":"#000000","strokeWidth":1.3},"encoding":{
   "x":{"field":"week","type":"temporal","scale":{"type":"utc","domain":[{"year":2017,"month":12,"date":26,"utc":true},{"year":2022,"month":5,"date":7,"utc":true}]},"axis":{"title":null,"labels":false,"ticks":false,"domain":false,"values":[{"year":2018,"month":1,"date":1,"utc":true},{"year":2018,"month":7,"date":2,"utc":true},{"year":2019,"month":1,"date":1,"utc":true},{"year":2019,"month":7,"date":2,"utc":true},{"year":2020,"month":1,"date":1,"utc":true},{"year":2020,"month":7,"date":2,"utc":true},{"year":2021,"month":1,"date":1,"utc":true},{"year":2021,"month":7,"date":2,"utc":true},{"year":2022,"month":1,"date":1,"utc":true}],"gridWidth":{"condition":{"test":"utcmonth(datum.value)==0","value":1.5},"value":0.7}}},
   "strokeDash":{"field":"kind","type":"nominal","scale":{"domain":["solid","dashed"],"range":[[1,0],[5,4]]},"legend":null}}},
  {"data":{"name":"zh_fit"},"mark":{"type":"area","fillOpacity":0.22,"interpolate":"monotone"},"encoding":{
   "x":{"field":"week","type":"temporal"},
   "y":{"field":"lower","type":"quantitative","stack":null,"scale":{"domain":[109.6,456.5],"nice":false,"zero":false},"axis":{"title":null,"values":[150,200,250,300,350,400,450],"labelExpr":"datum.value % 100 == 0 ? datum.label : ''","tickSize":{"condition":{"test":"datum.value % 100 == 0","value":4},"value":0},"gridWidth":{"condition":{"test":"datum.value % 100 == 0","value":1.5},"value":0.7},"labelPadding":2}},
   "y2":{"field":"upper"},
   "fill":{"field":"series","type":"nominal","scale":{"domain":["Pre-pandemic","Pandemic","Counterfactual"],"range":["#F8766D","#00BA38","#619CFF"]},"legend":{"orient":"none","legendX":994,"legendY":441,"title":null,"symbolType":"square","symbolSize":729,"symbolOpacity":0.3,"symbolStrokeWidth":0,"labelFontSize":14,"labelColor":"#1A1A1A","labelOffset":10,"rowPadding":1}}}},
  {"data":{"name":"zh_fit"},"mark":{"type":"line","strokeWidth":1.6,"interpolate":"monotone"},"encoding":{
   "x":{"field":"week","type":"temporal"},"y":{"field":"fit","type":"quantitative"},
   "stroke":{"field":"series","type":"nominal","scale":{"domain":["Pre-pandemic","Pandemic","Counterfactual","none"],"range":["#F8766D","#00BA38","#619CFF","#000000"]},"legend":{"orient":"none","legendX":994,"legendY":441,"title":null,"values":["Pre-pandemic","Pandemic","Counterfactual"],"symbolType":"M-0.72,0H0.72","symbolSize":729,"symbolStrokeWidth":2,"labelExpr":"''","labelFontSize":14,"labelOffset":10,"rowPadding":1}}}},
  {"data":{"name":"zh_season"},"mark":{"type":"line","strokeWidth":1.3,"strokeDash":[6,4],"opacity":0.8,"interpolate":"monotone"},"encoding":{
   "x":{"field":"week","type":"temporal"},"y":{"field":"seasonal","type":"quantitative"},
   "stroke":{"field":"series","type":"nominal","scale":{"domain":["Pre-pandemic","Pandemic","Counterfactual","none"],"range":["#F8766D","#00BA38","#619CFF","#000000"]},"legend":{"orient":"none","legendX":994,"legendY":441,"title":null,"values":["Pre-pandemic","Pandemic","Counterfactual"],"symbolType":"M-0.72,0H0.72","symbolSize":729,"symbolStrokeWidth":2,"labelExpr":"''","labelFontSize":14,"labelOffset":10,"rowPadding":1}}}},
  {"data":{"name":"zh_obs"},"transform":[{"filter":"!datum.excluded"}],"mark":{"type":"circle","color":"#000000","opacity":1,"size":44},"encoding":{"x":{"field":"week","type":"temporal"},"y":{"field":"visits","type":"quantitative"}}},
  {"data":{"name":"zh_obs"},"transform":[{"filter":"datum.excluded"}],"mark":{"type":"point","filled":false,"stroke":"#000000","strokeWidth":1,"opacity":1,"size":36},"encoding":{"x":{"field":"week","type":"temporal"},"y":{"field":"visits","type":"quantitative"}}}
 ]}
]},
{"spacing":0,"vconcat":[
 {"width":965,"height":30,"view":{"fill":"#D9D9D9","stroke":null},"data":{"values":[{"region":"GE"}]},"mark":{"type":"text","fontSize":13.5,"color":"#1A1A1A","font":"Liberation Sans"},"encoding":{"text":{"field":"region"}}},
 {"width":965,"height":266,"view":{"fill":"#EBEBEB","stroke":null},"layer":[
  {"data":{"name":"events"},"mark":{"type":"rule","color":"#000000","strokeWidth":1.3},"encoding":{
   "x":{"field":"week","type":"temporal","scale":{"type":"utc","domain":[{"year":2017,"month":12,"date":26,"utc":true},{"year":2022,"month":5,"date":7,"utc":true}]},"axis":{"title":null,"labels":false,"ticks":false,"domain":false,"values":[{"year":2018,"month":1,"date":1,"utc":true},{"year":2018,"month":7,"date":2,"utc":true},{"year":2019,"month":1,"date":1,"utc":true},{"year":2019,"month":7,"date":2,"utc":true},{"year":2020,"month":1,"date":1,"utc":true},{"year":2020,"month":7,"date":2,"utc":true},{"year":2021,"month":1,"date":1,"utc":true},{"year":2021,"month":7,"date":2,"utc":true},{"year":2022,"month":1,"date":1,"utc":true}],"gridWidth":{"condition":{"test":"utcmonth(datum.value)==0","value":1.5},"value":0.7}}},
   "strokeDash":{"field":"kind","type":"nominal","scale":{"domain":["solid","dashed"],"range":[[1,0],[5,4]]},"legend":null}}},
  {"data":{"name":"ge_fit"},"mark":{"type":"area","fillOpacity":0.22,"interpolate":"monotone"},"encoding":{
   "x":{"field":"week","type":"temporal"},
   "y":{"field":"lower","type":"quantitative","stack":null,"scale":{"domain":[53.9,360.2],"nice":false,"zero":false},"axis":{"title":"Weekly number of visits","titlePadding":14,"values":[100,150,200,250,300,350],"labelExpr":"datum.value % 100 == 0 ? datum.label : ''","tickSize":{"condition":{"test":"datum.value % 100 == 0","value":4},"value":0},"gridWidth":{"condition":{"test":"datum.value % 100 == 0","value":1.5},"value":0.7},"labelPadding":2}},
   "y2":{"field":"upper"},
   "fill":{"field":"series","type":"nominal","scale":{"domain":["Pre-pandemic","Pandemic","Counterfactual"],"range":["#F8766D","#00BA38","#619CFF"]},"legend":{"orient":"none","legendX":994,"legendY":441,"title":null,"symbolType":"square","symbolSize":729,"symbolOpacity":0.3,"symbolStrokeWidth":0,"labelFontSize":14,"labelColor":"#1A1A1A","labelOffset":10,"rowPadding":1}}}},
  {"data":{"name":"ge_fit"},"mark":{"type":"line","strokeWidth":1.6,"interpolate":"monotone"},"encoding":{
   "x":{"field":"week","type":"temporal"},"y":{"field":"fit","type":"quantitative"},
   "stroke":{"field":"series","type":"nominal","scale":{"domain":["Pre-pandemic","Pandemic","Counterfactual","none"],"range":["#F8766D","#00BA38","#619CFF","#000000"]},"legend":{"orient":"none","legendX":994,"legendY":441,"title":null,"values":["Pre-pandemic","Pandemic","Counterfactual"],"symbolType":"M-0.72,0H0.72","symbolSize":729,"symbolStrokeWidth":2,"labelExpr":"''","labelFontSize":14,"labelOffset":10,"rowPadding":1}}}},
  {"data":{"name":"ge_season"},"mark":{"type":"line","strokeWidth":1.3,"strokeDash":[6,4],"opacity":0.8,"interpolate":"monotone"},"encoding":{
   "x":{"field":"week","type":"temporal"},"y":{"field":"seasonal","type":"quantitative"},
   "stroke":{"field":"series","type":"nominal","scale":{"domain":["Pre-pandemic","Pandemic","Counterfactual","none"],"range":["#F8766D","#00BA38","#619CFF","#000000"]},"legend":{"orient":"none","legendX":994,"legendY":441,"title":null,"values":["Pre-pandemic","Pandemic","Counterfactual"],"symbolType":"M-0.72,0H0.72","symbolSize":729,"symbolStrokeWidth":2,"labelExpr":"''","labelFontSize":14,"labelOffset":10,"rowPadding":1}}}},
  {"data":{"name":"ge_obs"},"transform":[{"filter":"!datum.excluded"}],"mark":{"type":"circle","color":"#000000","opacity":1,"size":44},"encoding":{"x":{"field":"week","type":"temporal"},"y":{"field":"visits","type":"quantitative"}}},
  {"data":{"name":"ge_obs"},"transform":[{"filter":"datum.excluded"}],"mark":{"type":"point","filled":false,"stroke":"#000000","strokeWidth":1,"opacity":1,"size":36},"encoding":{"x":{"field":"week","type":"temporal"},"y":{"field":"visits","type":"quantitative"}}}
 ]}
]},
{"spacing":0,"vconcat":[
 {"width":965,"height":30,"view":{"fill":"#D9D9D9","stroke":null},"data":{"values":[{"region":"TI"}]},"mark":{"type":"text","fontSize":13.5,"color":"#1A1A1A","font":"Liberation Sans"},"encoding":{"text":{"field":"region"}}},
 {"width":965,"height":266,"view":{"fill":"#EBEBEB","stroke":null},"layer":[
  {"data":{"name":"events"},"mark":{"type":"rule","color":"#000000","strokeWidth":1.3},"encoding":{
   "x":{"field":"week","type":"temporal","scale":{"type":"utc","domain":[{"year":2017,"month":12,"date":26,"utc":true},{"year":2022,"month":5,"date":7,"utc":true}]},"axis":{"title":null,"domain":false,"labelPadding":2,"values":[{"year":2018,"month":1,"date":1,"utc":true},{"year":2018,"month":7,"date":2,"utc":true},{"year":2019,"month":1,"date":1,"utc":true},{"year":2019,"month":7,"date":2,"utc":true},{"year":2020,"month":1,"date":1,"utc":true},{"year":2020,"month":7,"date":2,"utc":true},{"year":2021,"month":1,"date":1,"utc":true},{"year":2021,"month":7,"date":2,"utc":true},{"year":2022,"month":1,"date":1,"utc":true}],"labelExpr":"utcmonth(datum.value)==0 ? utcFormat(datum.value,'%Y') : ''","tickSize":{"condition":{"test":"utcmonth(datum.value)==0","value":4},"value":0},"gridWidth":{"condition":{"test":"utcmonth(datum.value)==0","value":1.5},"value":0.7}}},
   "strokeDash":{"field":"kind","type":"nominal","scale":{"domain":["solid","dashed"],"range":[[1,0],[5,4]]},"legend":null}}},
  {"data":{"name":"ti_fit"},"mark":{"type":"area","fillOpacity":0.22,"interpolate":"monotone"},"encoding":{
   "x":{"field":"week","type":"temporal"},
   "y":{"field":"lower","type":"quantitative","stack":null,"scale":{"domain":[17.7,127.5],"nice":false,"zero":false},"axis":{"title":null,"values":[25,37.5,50,62.5,75,87.5,100,112.5,125],"labelExpr":"datum.value % 25 == 0 ? datum.label : ''","tickSize":{"condition":{"test":"datum.value % 25 == 0","value":4},"value":0},"gridWidth":{"condition":{"test":"datum.value % 25 == 0","value":1.5},"value":0.7},"labelPadding":2}},
   "y2":{"field":"upper"},
   "fill":{"field":"series","type":"nominal","scale":{"domain":["Pre-pandemic","Pandemic","Counterfactual"],"range":["#F8766D","#00BA38","#619CFF"]},"legend":{"orient":"none","legendX":994,"legendY":441,"title":null,"symbolType":"square","symbolSize":729,"symbolOpacity":0.3,"symbolStrokeWidth":0,"labelFontSize":14,"labelColor":"#1A1A1A","labelOffset":10,"rowPadding":1}}}},
  {"data":{"name":"ti_fit"},"mark":{"type":"line","strokeWidth":1.6,"interpolate":"monotone"},"encoding":{
   "x":{"field":"week","type":"temporal"},"y":{"field":"fit","type":"quantitative"},
   "stroke":{"field":"series","type":"nominal","scale":{"domain":["Pre-pandemic","Pandemic","Counterfactual","none"],"range":["#F8766D","#00BA38","#619CFF","#000000"]},"legend":{"orient":"none","legendX":994,"legendY":441,"title":null,"values":["Pre-pandemic","Pandemic","Counterfactual"],"symbolType":"M-0.72,0H0.72","symbolSize":729,"symbolStrokeWidth":2,"labelExpr":"''","labelFontSize":14,"labelOffset":10,"rowPadding":1}}}},
  {"data":{"name":"ti_season"},"mark":{"type":"line","strokeWidth":1.3,"strokeDash":[6,4],"opacity":0.8,"interpolate":"monotone"},"encoding":{
   "x":{"field":"week","type":"temporal"},"y":{"field":"seasonal","type":"quantitative"},
   "stroke":{"field":"series","type":"nominal","scale":{"domain":["Pre-pandemic","Pandemic","Counterfactual","none"],"range":["#F8766D","#00BA38","#619CFF","#000000"]},"legend":{"orient":"none","legendX":994,"legendY":441,"title":null,"values":["Pre-pandemic","Pandemic","Counterfactual"],"symbolType":"M-0.72,0H0.72","symbolSize":729,"symbolStrokeWidth":2,"labelExpr":"''","labelFontSize":14,"labelOffset":10,"rowPadding":1}}}},
  {"data":{"name":"ti_obs"},"transform":[{"filter":"!datum.excluded"}],"mark":{"type":"circle","color":"#000000","opacity":1,"size":44},"encoding":{"x":{"field":"week","type":"temporal"},"y":{"field":"visits","type":"quantitative"}}},
  {"data":{"name":"ti_obs"},"transform":[{"filter":"datum.excluded"}],"mark":{"type":"point","filled":false,"stroke":"#000000","strokeWidth":1,"opacity":1,"size":36},"encoding":{"x":{"field":"week","type":"temporal"},"y":{"field":"visits","type":"quantitative"}}}
 ]}
]}
]
}
